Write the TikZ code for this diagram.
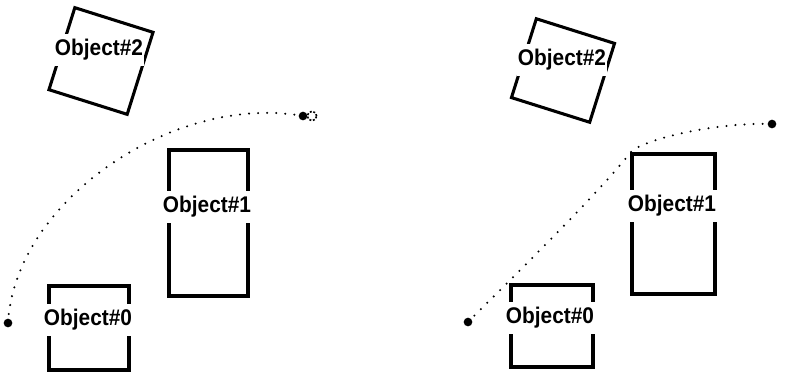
\documentclass[tikz,border=0pt]{standalone}
\usepackage{fontspec}
\newfontfamily\objfont[FakeStretch=0.92]{Liberation Sans}
\begin{document}
\begin{tikzpicture}[x=0.75pt,y=-0.75pt,
  objbox/.style={draw, line width=2.3pt, inner sep=0pt},
  objlabel/.style={fill=white, inner xsep=1pt, inner ysep=4pt,
    font=\objfont\bfseries\fontsize{17}{17}\selectfont},
  trail/.style={line width=1.7pt, line cap=round, dash pattern=on 0pt off 6.8pt},
  endpt/.style={circle, fill, inner sep=0pt, minimum size=6.5pt},
  ghost/.style={circle, draw, dash pattern=on 1.5pt off 1.3pt, line width=1.2pt,
    minimum size=7pt, inner sep=0pt}]
\useasboundingbox (0,0) rectangle (786,376);

% ---- left scene: path around the obstacles ----
\node[objbox, minimum width=61.5pt, minimum height=64.5pt, rotate=-17.5] (lbox2) at (101,61) {};
\node[objbox, minimum width=59.25pt, minimum height=109.5pt] (lbox1) at (208.5,223) {};
\node[objbox, minimum width=60pt, minimum height=63pt] (lbox0) at (89,328) {};

\node[objlabel] (llab2) at (99,50) {Object\#2};
\node[objlabel] (llab1) at (207,207) {Object\#1};
\node[objlabel] (llab0) at (88,320) {Object\#0};

\node[endpt] (lstart) at (8,323) {};
\node[endpt] (lgoal) at (303,116) {};
\node[ghost] (lghost) at (312,116) {};
\draw[trail] (lstart.center) .. controls (15,200) and (175,93) .. (lgoal.center);

% ---- right scene: smoothed path ----
\node[objbox, minimum width=61.5pt, minimum height=62pt, rotate=-17.5] (rbox2) at (563,70.5) {};
\node[objbox, minimum width=62.25pt, minimum height=105pt] (rbox1) at (673.5,224) {};
\node[objbox, minimum width=61.5pt, minimum height=61.5pt] (rbox0) at (552,326) {};

\node[objlabel] (rlab2) at (562,60) {Object\#2};
\node[objlabel] (rlab1) at (672,206) {Object\#1};
\node[objlabel] (rlab0) at (550,318) {Object\#0};

\node[endpt] (rstart) at (468,322) {};
\node[endpt] (rgoal) at (772,124) {};
\coordinate (rbend) at (630,153);
\draw[trail] (rstart.center) .. controls (510,280) and (600,192) .. (rbend)
  .. controls (640,140) and (715,122) .. (rgoal.center);
\end{tikzpicture}
\end{document}
